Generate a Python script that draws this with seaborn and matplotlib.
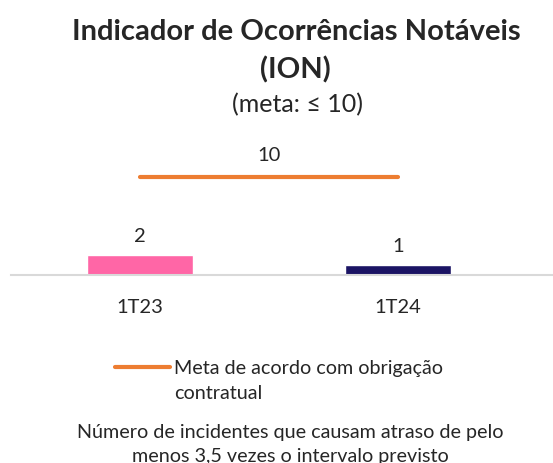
import matplotlib.pyplot as plt
import numpy as np
import pandas as pd
import seaborn as sns
from matplotlib.lines import Line2D

# data
quarters = ['1T23', '1T24']
ion_values = [2, 1]
meta_values = [10, 10]
bar_colors = ['#FF66A6', '#1B1464']
meta_color = '#ED7D31'

sns.set_style('white')
plt.rcParams['font.family'] = ['Lato', 'DejaVu Sans']

df = pd.DataFrame({'trimestre': quarters, 'ion': ion_values})

fig = plt.figure(figsize=(5.53, 4.63), dpi=100)
ax = fig.add_axes([0.02, 0.406, 0.98, 0.296])

sns.barplot(data=df, x='trimestre', y='ion', hue='trimestre',
            palette=bar_colors, saturation=1, width=0.41, legend=False,
            ax=ax)
pos = np.arange(len(quarters))
sns.lineplot(x=pos, y=meta_values, color=meta_color, linewidth=3,
             solid_capstyle='round', ax=ax)

# data labels
for x, v in zip(pos, ion_values):
    ax.text(x, v + 1.9, str(v), ha='center', va='center', fontsize=14.5)
ax.text(pos.mean(), meta_values[0] + 2.2, str(meta_values[0]),
        ha='center', va='center', fontsize=14.5)

ax.set_xlim(-0.5, 1.6)
ax.set_ylim(0, 14)
ax.set_xlabel('')
ax.set_ylabel('')
ax.set_yticks([])
ax.tick_params(axis='x', length=0, labelsize=14.5, pad=17)
for s in ['top', 'right', 'left']:
    ax.spines[s].set_visible(False)
ax.spines['bottom'].set_color('#D9D9D9')
ax.spines['bottom'].set_linewidth(1.5)

fig.text(0.535, 0.889, 'Indicador de Ocorrências Notáveis\n(ION)',
         ha='center', va='center', fontsize=21, fontweight='bold',
         linespacing=1.5)
fig.text(0.538, 0.773, '(meta: ≤ 10)', ha='center', va='center',
         fontsize=18)

handle = Line2D([], [], color=meta_color, linewidth=3,
                solid_capstyle='round')
fig.legend([handle], ['Meta de acordo com obrigação'],
           loc='center left', bbox_to_anchor=(0.208, 0.205),
           frameon=False, fontsize=14.2, handlelength=2.8,
           handletextpad=0.2, borderpad=0, borderaxespad=0)
fig.text(0.315, 0.151, 'contratual', ha='left', va='center',
         fontsize=14.2)

fig.text(0.525, 0.04,
         'Número de incidentes que causam atraso de pelo\n'
         'menos 3,5 vezes o intervalo previsto',
         ha='center', va='center', fontsize=14.2, linespacing=1.55)

fig.savefig('out.png', dpi=100)
